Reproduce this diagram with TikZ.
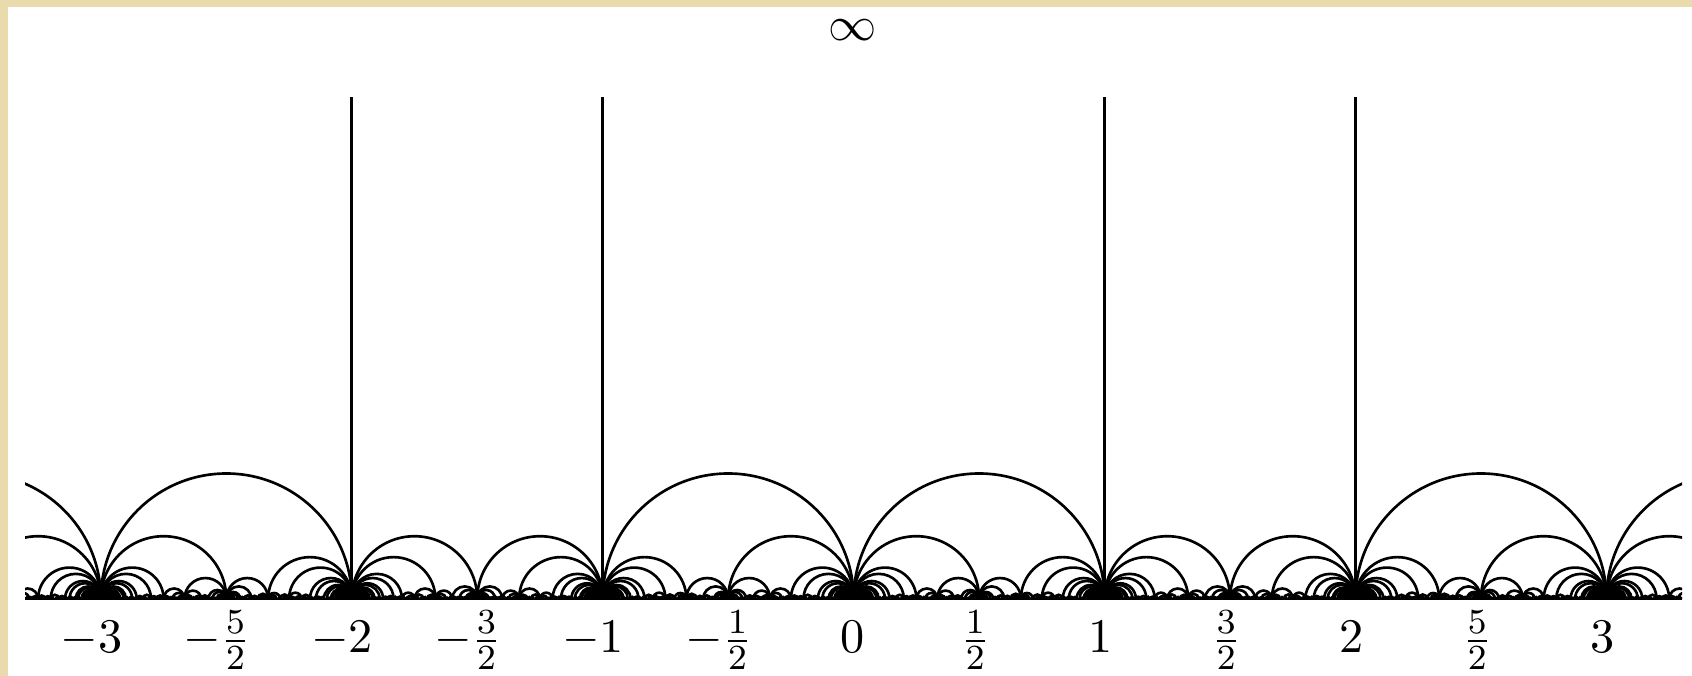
\documentclass[11pt,tikz,border=0pt]{standalone}
\tikzset{every picture/.style={line width=0.6pt}}
\definecolor{parchment}{RGB}{233,219,172}

\makeatletter
\newcount\fareyq \newcount\fareyr \newcount\fareyca \newcount\fareycb
\def\fareymax{160}
% residue mod 3 into \fareyr
\newcommand\fareymodthree[1]{\fareyr=\numexpr(#1)+3000\relax
  \fareyq=\fareyr \divide\fareyq by 3 \multiply\fareyq by 3
  \advance\fareyr by -\fareyq}
% class of #1/#2 in P^1(F_3), 3 stands for infinity
\newcommand\fareyclass[2]{\fareymodthree{#2}\fareycb=\fareyr
  \ifnum\fareycb=0 \fareycb=3 \else\fareymodthree{(#1)*\fareycb}\fareycb=\fareyr\fi}
\newcommand\fareyedge[4]{%
  \fareyclass{#1}{#2}\fareyca=\fareycb
  \fareyclass{#3}{#4}%
  \ifnum\numexpr\fareyca+\fareycb\relax=3 \else
    \draw ({(#1)/(#2)},0) arc[start angle=180,end angle=0,radius={1/(2*#2*#4)}];
  \fi}
\newcommand\fareytree[4]{%
  \ifnum\numexpr(#2)*(#4)\relax>\fareymax\relax
    \expandafter\@gobble
  \else
    \expandafter\@firstofone
  \fi
  {\fareyedge{#1}{#2}{#3}{#4}%
   \edef\fareynext{\noexpand\fareytree{#1}{#2}{\the\numexpr(#1)+(#3)\relax}{\the\numexpr(#2)+(#4)\relax}%
     \noexpand\fareytree{\the\numexpr(#1)+(#3)\relax}{\the\numexpr(#2)+(#4)\relax}{#3}{#4}}%
   \fareynext}}
\makeatother

\begin{document}
\begin{tikzpicture}[x=2cm,y=2cm]
%Shape: Rectangle
\fill [parchment] (-3.402,-0.307) rectangle (3.341,2.387);
%Shape: Rectangle
\fill [white] (-3.370,-0.307) rectangle (3.341,2.359);
\useasboundingbox (-3.402,-0.307) rectangle (3.341,2.387);

%Farey arcs
\begin{scope}
\clip (-3.302,-0.05) rectangle (3.302,2.1);
\foreach \n in {-4,...,3}{
  \pgfmathtruncatemacro{\m}{\n+1}
  \fareytree{\n}{1}{\m}{1}
}
\end{scope}

%Straight Lines
\foreach \n in {-2,-1,1,2}
  \draw (\n,0) -- (\n,2);
%Straight Lines
\draw (-3.302,0) -- (3.302,0);

% Text Node
\node [inner sep=0.75pt] (inf) at (-0.005,2.268) {$\infty$};
% Text Node
\foreach \x/\lab [count=\i] in {-3.038/-3,-2.538/-\frac{5}{2},-2.038/-2,-1.538/-\frac{3}{2},-1.038/-1,-0.538/-\frac{1}{2},-0.005/0,0.485/\frac{1}{2},0.985/1,1.485/\frac{3}{2},1.985/2,2.485/\frac{5}{2},2.985/3}
  \node [anchor=base,inner sep=0.75pt] (lbl\i) at (\x,-0.215) {$\lab$};

\end{tikzpicture}
\end{document}
